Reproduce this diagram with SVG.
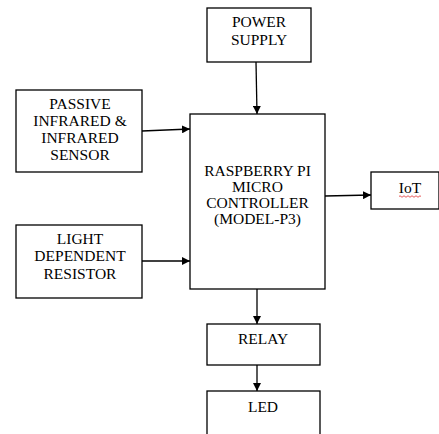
<svg xmlns="http://www.w3.org/2000/svg" width="439" height="434" viewBox="0 0 439 434">
<style>
.box{fill:#fff;stroke:#000;stroke-width:1.3}
.t{font-family:"Liberation Serif","Times New Roman",serif;font-size:15.5px;fill:#000;text-anchor:middle}
.c{stroke:#000;stroke-width:1.3;fill:none;marker-end:url(#ah)}
</style>
<defs>
<marker id="ah" viewBox="0 0 10 10" refX="10" refY="5" markerWidth="8" markerHeight="8" markerUnits="userSpaceOnUse" orient="auto">
<path d="M0,0 L10,5 L0,10 z" fill="#000"/>
</marker>
</defs>
<rect width="439" height="434" fill="#fff"/>
<g id="power">
<rect class="box" x="207" y="8" width="104" height="54"/>
<text class="t" x="259" y="27">POWER</text>
<text class="t" x="259" y="45">SUPPLY</text>
</g>
<g id="pir">
<rect class="box" x="16" y="90" width="126" height="82"/>
<text class="t" x="80" y="109">PASSIVE</text>
<text class="t" x="80" y="126">INFRARED &amp;</text>
<text class="t" x="80" y="143">INFRARED</text>
<text class="t" x="80" y="160">SENSOR</text>
</g>
<g id="rpi">
<rect class="box" x="190" y="114" width="135" height="175"/>
<text class="t" x="257.5" y="175.5">RASPBERRY PI</text>
<text class="t" x="257.5" y="191.5">MICRO</text>
<text class="t" x="257.5" y="207.5">CONTROLLER</text>
<text class="t" x="257.5" y="223.5">(MODEL-P3)</text>
</g>
<g id="iot">
<rect class="box" x="371" y="172" width="68" height="37"/>
<text class="t" x="410" y="193">IoT</text>
<path d="M399,196.5 q1,-1.5 2,0 t2,0 t2,0 t2,0 t2,0 t2,0 t2,0 t2,0 t2,0 t2,0 t2,0" fill="none" stroke="#e03030" stroke-width="0.8"/>
</g>
<g id="ldr">
<rect class="box" x="16" y="225" width="126" height="73"/>
<text class="t" x="80" y="244">LIGHT</text>
<text class="t" x="80" y="261">DEPENDENT</text>
<text class="t" x="80" y="279">RESISTOR</text>
</g>
<g id="relay">
<rect class="box" x="207" y="324" width="113" height="41"/>
<text class="t" x="263" y="344">RELAY</text>
</g>
<g id="led">
<rect class="box" x="207" y="391" width="113" height="50"/>
<text class="t" x="263" y="412">LED</text>
</g>
<g id="connectors">
<line class="c" x1="256" y1="62" x2="257" y2="114"/>
<line class="c" x1="142" y1="131" x2="190" y2="129"/>
<line class="c" x1="325" y1="196" x2="371" y2="195"/>
<line class="c" x1="142" y1="261" x2="190" y2="261"/>
<line class="c" x1="257" y1="289" x2="257" y2="324"/>
<line class="c" x1="257" y1="365" x2="257" y2="391"/>
</g>
</svg>
